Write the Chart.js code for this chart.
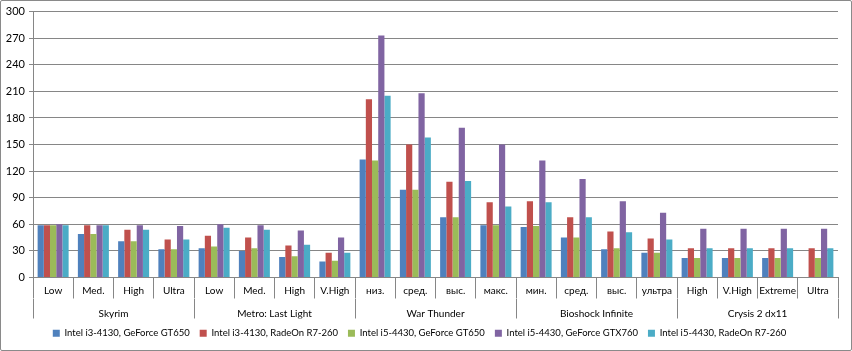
<!DOCTYPE html>
<html><head><meta charset="utf-8">
<script src="https://cdn.jsdelivr.net/npm/chart.js@4/dist/chart.umd.min.js"></script>
<style>
html,body{margin:0;padding:0;background:#fff;}
#wrap{position:relative;width:852px;height:351px;box-sizing:border-box;border:1px solid #8a8a8a;border-radius:2px;overflow:hidden;}
canvas{display:block;}
</style></head><body>
<div id="wrap"><canvas id="c" width="850" height="349"></canvas></div>
<script>
const settings = ['Low','Med.','High','Ultra','Low','Med.','High','V.High','низ.','сред.','выс.','макс.','мин.','сред.','выс.','ультра','High','V.High','Extreme','Ultra'];
const games = ['Skyrim','Metro: Last Light','War Thunder','Bioshock Infinite','Crysis 2 dx11'];
const seriesNames = ['Intel i3-4130, GeForce GT650','Intel i3-4130, RadeOn R7-260','Intel i5-4430, GeForce GT650','Intel i5-4430, GeForce GTX760','Intel i5-4430, RadeOn R7-260'];
const i3_gt650  = [59,49,41,32, 33,30,23,18, 133,99,68,59, 57,45,32,28, 22,22,22,null];
const i3_r7260  = [59,59,54,43, 47,45,36,28, 201,150,108,85, 86,68,52,44, 33,33,33,33];
const i5_gt650  = [59,49,41,32, 35,33,24,19, 132,99,68,59, 58,45,33,28, 22,22,22,22];
const i5_gtx760 = [60,59,59,58, 60,59,53,45, 273,208,169,150, 132,111,86,73, 55,55,55,55];
const i5_r7260  = [59,59,54,43, 56,54,37,28, 205,158,109,80, 85,68,51,43, 33,33,33,33];
const yMin = 0, yMax = 300, yStep = 30;
const colors = ['#4F81BD','#C0504D','#9BBB59','#8064A2','#4BACC6'];
const seriesData = [i3_gt650, i3_r7260, i5_gt650, i5_gtx760, i5_r7260];

const FONT = 'Lato, "Noto Sans", "DejaVu Sans", sans-serif';
const gridCol = '#868686';

new Chart(document.getElementById('c'), {
  type: 'bar',
  data: {
    labels: settings,
    datasets: seriesNames.map((n, i) => ({
      label: n, data: seriesData[i], backgroundColor: colors[i], borderWidth: 0,
      xAxisID: 'x', yAxisID: 'y', categoryPercentage: 0.77, barPercentage: 1.0
    }))
  },
  options: {
    responsive: false, animation: false, devicePixelRatio: 1,
    layout: { padding: { left: 0, right: 13, top: 10, bottom: 2 } },
    plugins: {
      tooltip: { enabled: false },
      legend: {
        position: 'bottom',
        labels: { boxWidth: 7, boxHeight: 7, padding: 10, color: '#000', font: { family: FONT, size: 9.5 } }
      }
    },
    scales: {
      y: {
        min: yMin, max: yMax,
        ticks: { stepSize: yStep, color: '#000', font: { family: FONT, size: 11 }, padding: 4 },
        grid: { color: gridCol, tickLength: 4, lineWidth: 1 },
        border: { color: gridCol },
        afterFit: s => { s.width = 32; }
      },
      x: {
        weight: 0,
        grid: { drawOnChartArea: false, offset: true, tickLength: 21, color: gridCol },
        border: { color: gridCol },
        ticks: { color: '#000', font: { family: FONT, size: 10 }, padding: -14, maxRotation: 0, autoSkip: false },
        afterFit: s => { s.height = 21; }
      },
      x2: {
        type: 'category', position: 'bottom', weight: 1, labels: games, offset: true,
        grid: { drawOnChartArea: false, offset: true, tickLength: 20, color: gridCol },
        border: { display: false },
        ticks: { color: '#000', font: { family: FONT, size: 10 }, padding: -11, maxRotation: 0, autoSkip: false },
        afterFit: s => { s.height = 20; }
      }
    }
  }
});
</script>
</body></html>
